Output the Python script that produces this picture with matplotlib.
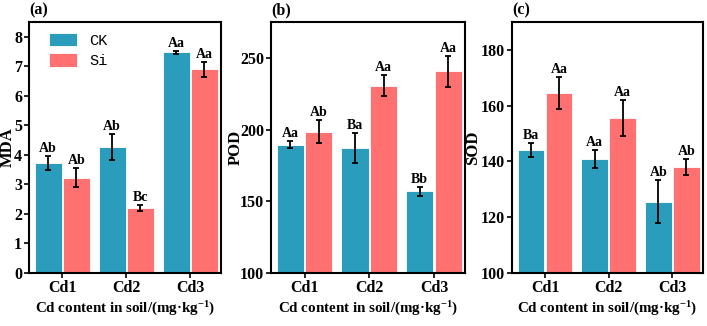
import matplotlib
matplotlib.use("Agg")
import matplotlib.pyplot as plt
import numpy as np

categories = ["Cd1", "Cd2", "Cd3"]
series = ["CK", "Si"]

mda_ck = [3.72, 4.27, 7.48]
mda_ck_err = [0.24, 0.43, 0.05]
mda_si = [3.23, 2.19, 6.90]
mda_si_err = [0.31, 0.10, 0.25]
mda_ck_lab = ["Ab", "Ab", "Aa"]
mda_si_lab = ["Ab", "Bc", "Aa"]

pod_ck = [189.5, 187.0, 156.9]
pod_ck_err = [2.3, 10.4, 3.2]
pod_si = [198.6, 230.6, 240.5]
pod_si_err = [7.8, 7.2, 10.6]
pod_ck_lab = ["Aa", "Ba", "Bb"]
pod_si_lab = ["Ab", "Aa", "Aa"]

sod_ck = [144.0, 140.9, 125.6]
sod_ck_err = [2.5, 3.1, 7.7]
sod_si = [164.6, 155.6, 137.9]
sod_si_err = [5.7, 6.4, 2.8]
sod_ck_lab = ["Ba", "Aa", "Ab"]
sod_si_lab = ["Aa", "Aa", "Ab"]

c_ck = "#2A9DBC"
c_si = "#FF7070"

serif = ["Liberation Serif", "DejaVu Serif"]
plt.rcParams["font.family"] = serif
plt.rcParams["font.weight"] = "bold"
plt.rcParams["axes.labelweight"] = "bold"
plt.rcParams["mathtext.fontset"] = "custom"
plt.rcParams["mathtext.rm"] = "Liberation Serif:bold"
plt.rcParams["mathtext.bf"] = "Liberation Serif:bold"
plt.rcParams["mathtext.it"] = "Liberation Serif:bold"

fig = plt.figure(figsize=(7.07, 3.26), dpi=100)
W, H = 707, 326
boxes = [(29, 221), (271, 465), (512, 703)]
ylab_x = [15.5, 244, 481]
top, bot = 22, 273

panels = [
    ("(a)", "MDA", mda_ck, mda_ck_err, mda_si, mda_si_err, mda_ck_lab, mda_si_lab, (0, 8.5), [0, 1, 2, 3, 4, 5, 6, 7, 8]),
    ("(b)", "POD", pod_ck, pod_ck_err, pod_si, pod_si_err, pod_ck_lab, pod_si_lab, (100, 275), [100, 150, 200, 250]),
    ("(c)", "SOD", sod_ck, sod_ck_err, sod_si, sod_si_err, sod_ck_lab, sod_si_lab, (100, 190), [100, 120, 140, 160, 180]),
]

x = np.arange(len(categories))
bw = 0.42
for i, (tag, ylab, ck, cke, si, sie, ckl, sil, ylim, yt) in enumerate(panels):
    l, r = boxes[i]
    ax = fig.add_axes([l / W, (H - bot) / H, (r - l) / W, (bot - top) / H])
    ekw = dict(ecolor="black", elinewidth=1.3, capsize=2.5, capthick=1.3)
    ax.bar(x - bw / 2 - 0.01, ck, bw, yerr=cke, color=c_ck, edgecolor="white", linewidth=0.6,
           error_kw=ekw, label=series[0])
    ax.bar(x + bw / 2 + 0.01, si, bw, yerr=sie, color=c_si, edgecolor="white", linewidth=0.6,
           error_kw=ekw, label=series[1])
    span = ylim[1] - ylim[0]
    for j in range(len(categories)):
        ax.text(x[j] - bw / 2 - 0.01, ck[j] + cke[j] + span * 0.004, ckl[j], ha="center", va="bottom",
                fontsize=10, fontweight="bold")
        ax.text(x[j] + bw / 2 + 0.01, si[j] + sie[j] + span * 0.004, sil[j], ha="center", va="bottom",
                fontsize=10, fontweight="bold")
    ax.set_xlim(-0.52, 2.48)
    ax.set_ylim(*ylim)
    ax.set_yticks(yt)
    ax.set_xticks(x)
    ax.set_xticklabels(categories)
    ax.tick_params(axis="both", labelsize=11.5, width=1.2, length=3.5, direction="out", pad=1.5)
    for lab in ax.get_xticklabels() + ax.get_yticklabels():
        lab.set_fontweight("bold")
    for s in ax.spines.values():
        s.set_linewidth(1.5)
    ax.set_ylabel(ylab, fontsize=12, fontweight="bold")
    ax.yaxis.set_label_coords((ylab_x[i] - l) / (r - l), 0.5)
    ax.set_xlabel("Cd content in soil/(mg·kg$^{-1}$)", fontsize=10.8, fontweight="bold", labelpad=3)
    ax.text(0.0, 1.015, tag, transform=ax.transAxes, ha="left", va="bottom", fontsize=11.5, fontweight="bold")
    if i == 0:
        ax.legend(loc="upper left", frameon=False,
                  prop={"family": "Liberation Mono", "size": 11, "weight": "normal"},
                  handlelength=1.8, handleheight=1.0, borderaxespad=0.3, bbox_to_anchor=(0.05, 1.0),
                  labelspacing=0.35, handletextpad=0.8)

fig.savefig("out.png", dpi=100)
